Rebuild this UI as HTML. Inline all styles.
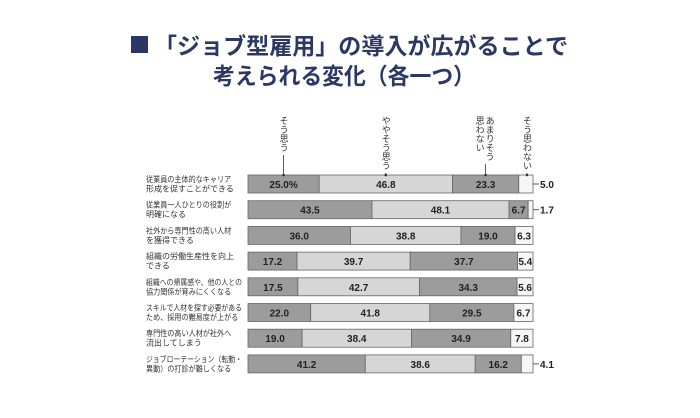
<!DOCTYPE html>
<html><head><meta charset="utf-8">
<style>
body{margin:0;background:#fff;width:700px;height:413px;overflow:hidden;font-family:"Liberation Sans","Noto Sans CJK JP",sans-serif;}
</style></head>
<body>
<svg id="chart" width="700" height="413" xmlns="http://www.w3.org/2000/svg" font-family="Liberation Sans, Noto Sans CJK JP, sans-serif">
<g fill="#2b3863" font-weight="bold" font-size="23">
<rect x="131" y="36" width="17" height="17" fill="#2b3863"/>
<text x="154" y="54" textLength="414" lengthAdjust="spacingAndGlyphs">「ジョブ型雇用」の導入が広がることで</text>
<text x="213" y="84" textLength="262" lengthAdjust="spacingAndGlyphs">考えられる変化（各一つ）</text>
</g>
<g id="bars"></g>
</svg>
<script>
const categories=["従業員の主体的なキャリア|形成を促すことができる","従業員一人ひとりの役割が|明確になる","社外から専門性の高い人材|を獲得できる","組織の労働生産性を向上|できる","組織への帰属感や、他の人との|協力関係が育みにくくなる","スキルで人材を探す必要がある|ため、採用の難易度が上がる","専門性の高い人材が社外へ|流出してしまう","ジョブローテーション（転勤・|異動）の打診が難しくなる"];
const agree=[25.0,43.5,36.0,17.2,17.5,22.0,19.0,41.2];
const somewhat=[46.8,48.1,38.8,39.7,42.7,41.8,38.4,38.6];
const notMuch=[23.3,6.7,19.0,37.7,34.3,29.5,34.9,16.2];
const notAt=[5.0,1.7,6.3,5.4,5.6,6.7,7.8,4.1];
const seriesNames=["そう思う","ややそう思う","あまりそう|思わない","そう思わない"];
const NS="http://www.w3.org/2000/svg";
const g=document.getElementById('bars');
const x0=248,W=285,top0=175,pitch=25.7,bh=18;
const fills=["#9c9c9c","#d6d6d6","#9c9c9c","#f6f6f6"];
function el(t,a){const e=document.createElementNS(NS,t);for(const k in a)e.setAttribute(k,a[k]);g.appendChild(e);return e;}
function xs(v,sum){return v/sum*W;}
const headerX=[];
categories.forEach((c,i)=>{
  const y=top0+i*pitch;
  const vals=[agree[i],somewhat[i],notMuch[i],notAt[i]];
  const sum=vals.reduce((a,b)=>a+b,0);
  const lines=c.split('|');
  lines.forEach((l,j)=>{
    const a={x:146,y:y+7+j*9.5,'font-size':8,fill:'#333'};
    if(l.length>=12){a.textLength=Math.min(96,l.length*7.1);a.lengthAdjust='spacingAndGlyphs';}
    const t=el('text',a);t.textContent=l;
    
    });
  let cx=x0;
  vals.forEach((v,k)=>{
    const w=xs(v,sum);
    const r=el('rect',{x:cx,y:y,width:w,height:bh,fill:fills[k],stroke:'#666','stroke-width':0.8});
    
    
    if(i===0)headerX.push(cx+w/2);
    let lab=(k===0&&i===0)?v.toFixed(1)+"%":v.toFixed(1);
    let tx=cx+w/2,anchor='middle';
    if(k===3&&v<5.3){
      el('line',{x1:cx+w,y1:y+bh/2,x2:x0+W+6,y2:y+bh/2,stroke:'#333','stroke-width':0.8});
      tx=x0+W+7;anchor='start';
    }
    const t=el('text',{x:tx,y:y+13,'font-size':10,'font-weight':'bold','text-anchor':anchor,fill:'#222'});
    t.textContent=lab;
    
    
    cx+=w;
  });
});
seriesNames.forEach((s,k)=>{
  const cols=s.split('|');
  const hx=[headerX[0],headerX[1],headerX[2],x0+W-6][k];
  cols.forEach((col,j)=>{
    const x=hx+(cols.length>1?(j===0?4:-6):0);
    const t=el('text',{x:x,y:116,'font-size':9,fill:'#333',style:'writing-mode:vertical-rl'});
    t.textContent=col;
    
    
  });
  const endY=116+cols[0].length*9+3;
  el('line',{x1:hx,y1:endY,x2:hx,y2:top0,stroke:'#333','stroke-width':0.8});
  el('circle',{cx:hx,cy:top0,r:1.3,fill:'#333'});
});
</script>
</body></html>
